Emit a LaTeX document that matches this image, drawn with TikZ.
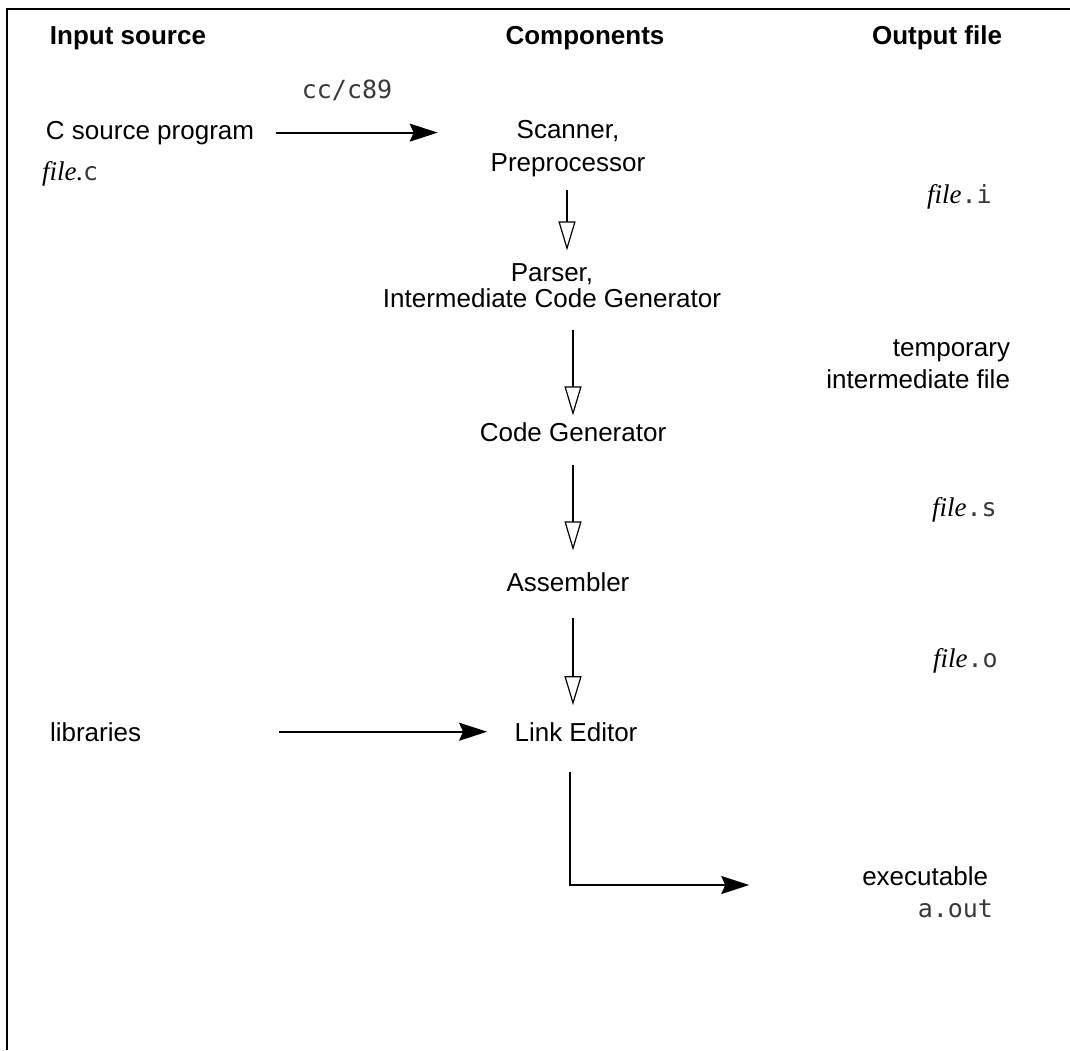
\documentclass[tikz,border=0pt]{standalone}
\usepackage{fontspec}
\setmainfont{Liberation Sans}
\newfontfamily\monofam{DejaVu Sans Mono}
\newfontfamily\seriffam{Liberation Serif}
\usetikzlibrary{arrows.meta}
\definecolor{monocol}{gray}{0.22}
\newcommand{\flx}[1]{{\seriffam\itshape\fontsize{13.5}{16}\selectfont #1}}
\newcommand{\mt}[1]{{\monofam\fontsize{12.5}{15}\selectfont\color{monocol}#1}}
\begin{document}
\begin{tikzpicture}[x=0.5pt,y=-0.5pt,
  txt/.style={inner sep=0pt, outer sep=0pt, font=\fontsize{13}{16.5}\selectfont},
  head/.style={inner sep=0pt, outer sep=0pt, font=\fontsize{13}{16.5}\selectfont\bfseries},
  fillarrow/.style={line width=0.9pt, -{Stealth[length=14pt,width=9pt,inset=2pt]}},
  hollowarrow/.style={line width=0.6pt, -{Triangle[open,length=14.5pt,width=8.5pt,fill=white]}},
  frameline/.style={line width=1pt}]
\useasboundingbox (0,0) rectangle (1070,1050);
\draw[frameline] (7,1050) -- (7,9) -- (1070,9);

% headers
\node[head, anchor=base] (hin) at (128,44) {Input source};
\node[head, anchor=base] (hcomp) at (585,44) {Components};
\node[head, anchor=base east] (hout) at (1002,44) {Output file};

% input side
\node[txt, anchor=base west] (csrc) at (46,139) {C source program};
\node[txt, anchor=base west] (filec) at (42,180) {\flx{file.}\mt{c}};
\node[txt, anchor=base] (cclab) at (347,98) {\mt{cc/c89}};
\node[txt, anchor=base west] (libs) at (50,741) {libraries};

% components
\node[txt, align=center] (scanner) at (568,149) {Scanner,\\Preprocessor};
\node[txt, align=center, font=\fontsize{13}{13}\selectfont] (parser) at (552,285.5) {Parser,\\Intermediate Code Generator};
\node[txt, anchor=base] (codegen) at (573,441) {Code Generator};
\node[txt, anchor=base] (asm) at (568,591) {Assembler};
\node[txt, anchor=base] (link) at (576,741) {Link Editor};

% outputs
\node[txt, anchor=base west] (filei) at (927,203) {\flx{file}\mt{.i}};
\node[txt, align=right, anchor=east, font=\fontsize{13}{16}\selectfont] (temp) at (1010,364) {temporary\\intermediate file};
\node[txt, anchor=base west] (files) at (932,516) {\flx{file}\mt{.s}};
\node[txt, anchor=base west] (fileo) at (933,667) {\flx{file}\mt{.o}};
\node[txt, anchor=base east] (exe) at (988,885) {executable};
\node[txt, anchor=base east] (aout) at (993,917) {\mt{a.out}};

% connectors
\draw[fillarrow, shorten <=11pt, shorten >=26.5pt] (csrc.east) -- (csrc.east -| scanner.west);
\draw[fillarrow, shorten <=69pt, shorten >=13.75pt] (libs.east) -- (libs.east -| link.west);
\draw[hollowarrow, shorten <=6.25pt, shorten >=6.5pt] ([xshift=-0.5pt]scanner.south) -- ([xshift=-0.5pt]scanner.south |- parser.north);
\draw[hollowarrow, shorten <=11pt, shorten >=3.4pt] (parser.south -| codegen.north) -- (codegen.north);
\draw[hollowarrow, shorten <=11.75pt, shorten >=10.9pt] (codegen.south) -- (codegen.south |- asm.north);
\draw[hollowarrow, shorten <=13.5pt, shorten >=8.5pt] (asm.south -| codegen.south) -- (link.north -| codegen.south);
\draw[fillarrow, shorten <=15.5pt, shorten >=56.5pt] ([xshift=-3pt]link.south) |- (exe.base west);
\end{tikzpicture}
\end{document}
